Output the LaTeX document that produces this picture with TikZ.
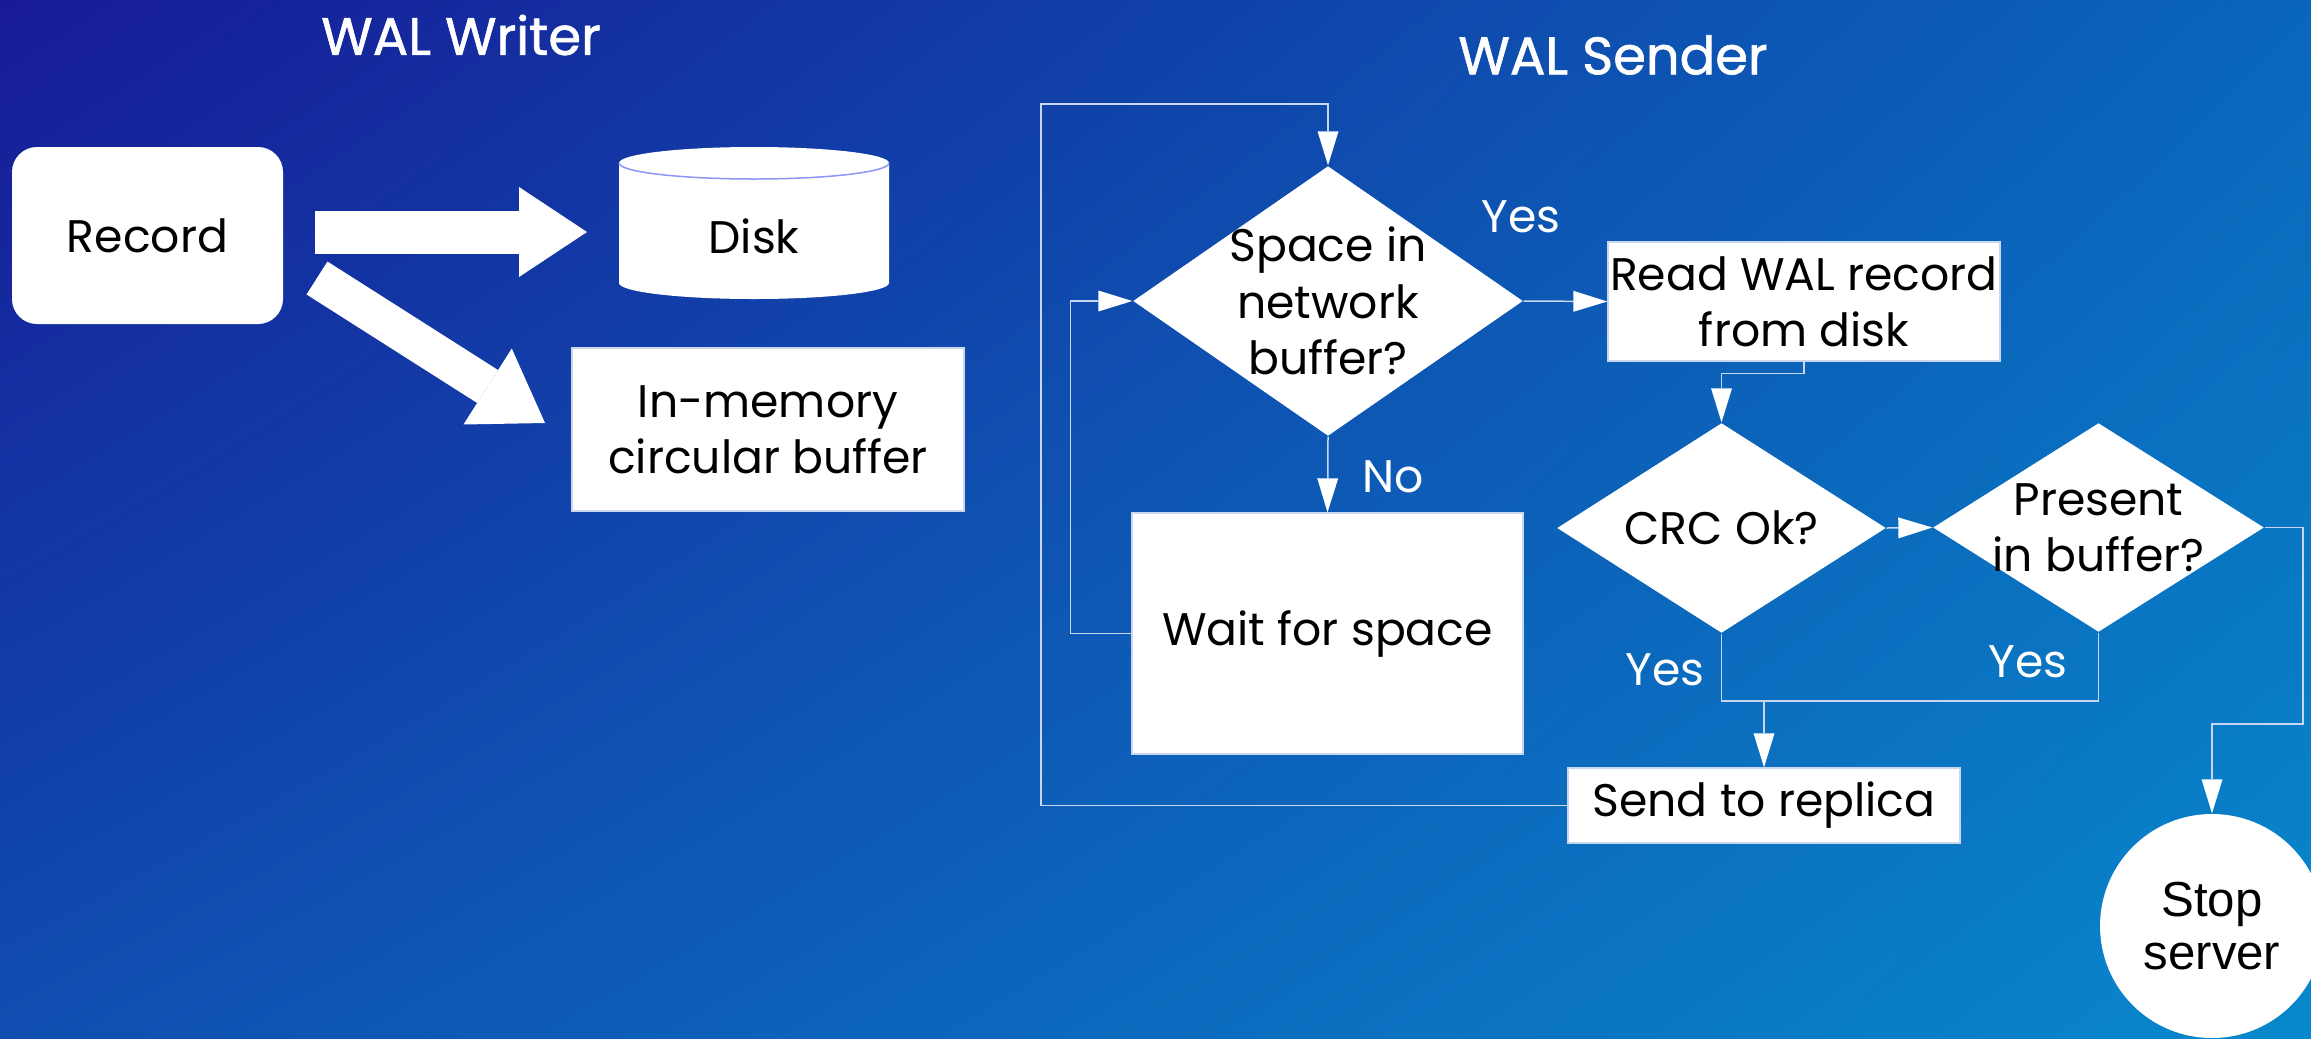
\documentclass[tikz,border=0pt]{standalone}
\usepackage{fontspec}
\setmainfont{Poppins}
\newfontfamily\titlefont[FakeBold=1.2]{Poppins}
\newfontfamily\arialfont{Liberation Sans}
\usetikzlibrary{shapes.geometric,arrows.meta,shadings}

\definecolor{bgA}{RGB}{23,26,150}
\definecolor{bgB}{RGB}{10,102,187}
\definecolor{bgC}{RGB}{15,78,176}
\definecolor{bgD}{RGB}{8,136,204}
\definecolor{linkcol}{RGB}{200,214,240}

\begin{document}
\begin{tikzpicture}[x=0.1mm,y=0.1mm,
  box/.style={draw=linkcol,fill=white,inner sep=0pt,align=center,font=\fontsize{13}{16}\selectfont},
  dia/.style={diamond,fill=white,inner sep=0pt},
  txt/.style={align=center,font=\fontsize{13}{16}\selectfont},
  lbl/.style={text=white,font=\fontsize{13}{16}\selectfont},
  line/.style={draw=linkcol,line width=0.15mm},
  link/.style={line,-{Triangle[length=3.4mm,width=2.1mm,line width=0pt,color=white]}},
  fat/.style={draw=white,-{Triangle[length=6.8mm,width=9mm,line width=0pt]}}]

\useasboundingbox (0,0) rectangle (2311,-1038);
\clip (0,0) rectangle (2311,-1038);
\shade[upper left=bgA,upper right=bgB,lower left=bgC,lower right=bgD] (0,0) rectangle (2311,-1038);

\node[lbl,font=\titlefont\fontsize{15}{18}\selectfont] (wtitle) at (461,-35) {WAL Writer};
\node[lbl,font=\titlefont\fontsize{15}{18}\selectfont] (stitle) at (1613,-55) {WAL Sender};

% writer side
\node[box,draw=none,rounded corners=2.5mm,minimum width=27.1mm,minimum height=17.7mm] (rec) at (147.5,-235.5) {Record};
\node[box,minimum width=39.2mm,minimum height=16.3mm] (buf) at (768,-429.5) {In-memory\\circular buffer};

\fill[white] (619,-163) -- (619,-283) arc[start angle=180,end angle=360,x radius=135,y radius=16]
  -- (889,-163) arc[start angle=0,end angle=180,x radius=135,y radius=16] -- cycle;
\draw[linkcol!70!blue,line width=0.15mm] (619,-163) arc[start angle=180,end angle=360,x radius=135,y radius=16];
\node[txt] (disk) at (754,-236) {Disk};

\coordinate (h0) at (315,-232);
\coordinate (h1) at (587,-232);
\coordinate (d0) at (317,-278);
\coordinate (d1) at (545,-423);
\draw[fat,line width=4.3mm] (h0) -- (h1);
\draw[fat,line width=3.9mm] (d0) -- (d1);

% sender side
\node[dia,minimum width=39mm,minimum height=27mm,label={[txt]center:{Space in\\network\\buffer?}}] (sp) at (1328,-301) {};
\node[box,minimum width=39.2mm,minimum height=11.9mm] (rd) at (1804,-301.5) {Read WAL record\\from disk};
\node[box,minimum width=39.1mm,minimum height=24.1mm] (wt) at (1327.5,-633.5) {Wait for space};
\node[dia,minimum width=32.9mm,minimum height=21mm,label={[txt]center:CRC Ok?}] (crc) at (1721.5,-528) {};
\node[dia,minimum width=33.1mm,minimum height=20.9mm,label={[txt]center:{Present\\in buffer?}}] (pr) at (2098.5,-527.5) {};
\node[box,minimum width=39.2mm,minimum height=7.5mm] (snd) at (1764,-805.5) {Send to replica};
\node[circle,fill=white,inner sep=0pt,minimum size=22.4mm,align=center,font=\arialfont\fontsize{14}{15}\selectfont] (stop) at (2212,-926) {Stop\\server};

\coordinate (top) at (1041,-104);
\coordinate (rt) at (2303,-724);
\coordinate (jn) at (1764,-701);

\draw[link] (sp.east) -- (rd.west);
\draw[link] (sp.south) -- (wt.north);
\draw[link] (wt.west) -- ++(-61,0) |- (sp.west);
\draw[link] (snd.west) -| (top) -| (sp.north);
\draw[link] (rd.south) -- ++(0,-12) -| (crc.north);
\draw[link] (crc.east) -- (pr.west);
\draw[link] (pr.east) -| (rt) -| (stop.north);
\draw[line] (crc.south) |- (jn) -| (pr.south);
\draw[link] (jn) -- (snd.north);

\node[lbl] (yes1) at (1521,-217) {Yes};
\node[lbl] (no1) at (1393,-477) {No};
\node[lbl] (yes2) at (1665,-670) {Yes};
\node[lbl] (yes3) at (2028,-662) {Yes};

\end{tikzpicture}
\end{document}
